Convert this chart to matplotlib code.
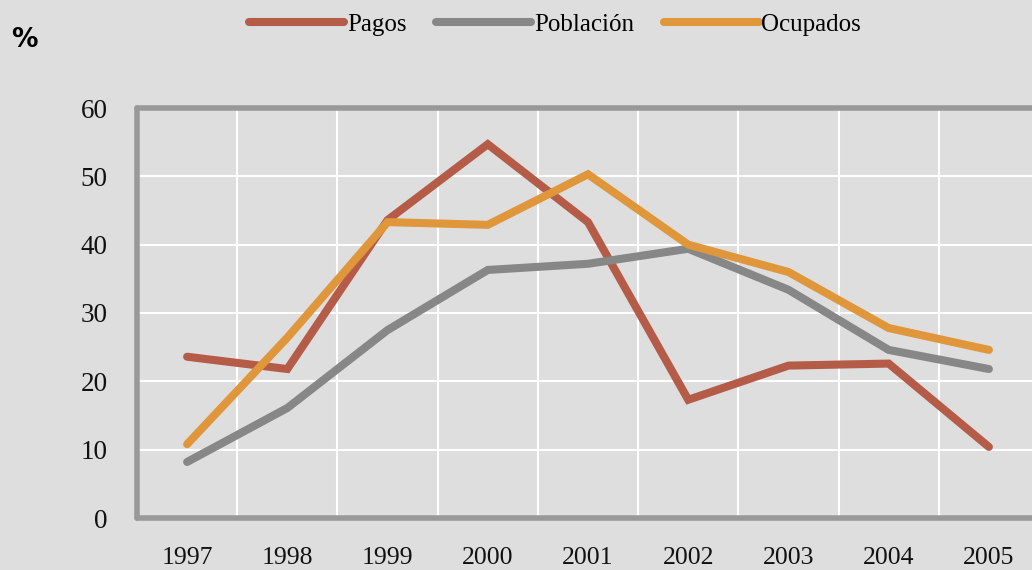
import matplotlib.pyplot as plt
from matplotlib.lines import Line2D

years = ['1997', '1998', '1999', '2000', '2001', '2002', '2003', '2004', '2005']
pagos = [23.6, 21.8, 43.6, 54.7, 43.3, 17.3, 22.3, 22.6, 10.4]
poblacion = [8.2, 16.1, 27.5, 36.3, 37.2, 39.4, 33.4, 24.6, 21.8]
ocupados = [10.8, 26.4, 43.3, 42.9, 50.3, 40.0, 36.0, 27.8, 24.6]
series_names = ['Pagos', 'Población', 'Ocupados']
colors = ['#b55c48', '#878787', '#e0963a']

bg = '#dedede'
fig = plt.figure(figsize=(10.32, 5.7), dpi=100, facecolor=bg)
ax = fig.add_axes([137 / 1032, 1 - 518 / 570, 902 / 1032, 410 / 570], facecolor=bg)

x = list(range(len(years)))
for vals, c in zip([pagos, poblacion, ocupados], colors):
    ax.plot(x, vals, color=c, lw=5.8, solid_capstyle='round', solid_joinstyle='miter', zorder=3)

ax.set_xlim(-0.5, len(years) - 0.5)
ax.set_ylim(0, 60)
ax.set_xticks(x)
ax.set_xticklabels(years)
ax.set_xticks([i + 0.5 for i in x[:-1]], minor=True)
ax.set_yticks(range(0, 61, 10))
ax.grid(which='minor', axis='x', color='white', lw=1.5)
ax.grid(which='major', axis='y', color='white', lw=1.5)
ax.set_axisbelow(True)

for side in ['left', 'bottom', 'top']:
    ax.spines[side].set_color('#999999')
    ax.spines[side].set_linewidth(4)
    ax.spines[side].set_capstyle('round')
ax.spines['right'].set_visible(False)

ax.tick_params(which='both', length=0)
ax.tick_params(axis='x', pad=21)
ax.tick_params(axis='y', pad=21)
for lab in ax.get_xticklabels():
    lab.set_fontfamily('Liberation Serif')
    lab.set_fontsize(18.5)
    lab.set_color('#111111')
for lab in ax.get_yticklabels():
    lab.set_fontfamily('Liberation Serif')
    lab.set_fontsize(19.5)
    lab.set_color('#111111')

fig.text(0.011, 0.93, '%', fontsize=19, fontweight='bold', family='DejaVu Sans', ha='left', va='center')

handles = [Line2D([], [], color=c, lw=5.8, solid_capstyle='round') for c in colors]
leg = fig.legend(handles, series_names, loc='center', bbox_to_anchor=(0.538, 0.957), ncol=3,
                 frameon=False, handlelength=3.8, handletextpad=0.1, columnspacing=1.2,
                 prop={'family': 'Liberation Serif', 'size': 18})

fig.savefig('out.png', dpi=100, facecolor=bg)
